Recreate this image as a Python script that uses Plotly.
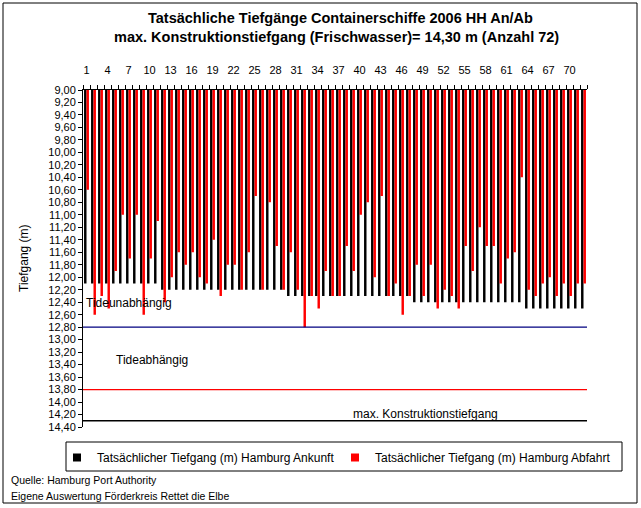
import plotly.graph_objects as go

# ---------------- data ----------------
schiffe = list(range(1, 73))

ankunft = [12.10, 12.10, 12.10, 12.10, 12.10, 12.10, 12.10, 12.10, 12.10, 12.10,
           12.10, 12.20, 12.20, 12.20, 12.20, 12.20, 12.20, 12.20, 12.20, 12.20,
           12.20, 12.20, 12.20, 12.20, 12.20, 12.20, 12.20, 12.20, 12.20, 12.30,
           12.30, 12.30, 12.30, 12.30, 12.30, 12.30, 12.30, 12.30, 12.30, 12.30,
           12.30, 12.30, 12.30, 12.30, 12.30, 12.30, 12.30, 12.40, 12.40, 12.40,
           12.40, 12.40, 12.40, 12.40, 12.40, 12.40, 12.40, 12.40, 12.40, 12.40,
           12.40, 12.40, 12.40, 12.50, 12.50, 12.50, 12.50, 12.50, 12.50, 12.50,
           12.50, 12.50]

abfahrt = [10.60, 12.60, 12.30, 12.50, 11.90, 11.00, 11.70, 11.00, 12.60, 11.70,
           11.10, 12.40, 12.00, 11.60, 11.80, 11.60, 12.00, 12.10, 11.40, 12.30,
           11.80, 11.80, 12.20, 11.60, 10.70, 12.20, 10.80, 11.50, 12.20, 11.60,
           12.20, 12.80, 12.30, 12.50, 11.90, 12.30, 12.30, 11.50, 11.90, 11.00,
           10.80, 12.00, 10.70, 12.30, 12.10, 12.60, 12.30, 11.80, 12.30, 11.80,
           12.50, 12.20, 12.30, 12.50, 11.50, 11.90, 11.20, 11.50, 11.50, 12.10,
           11.70, 11.60, 10.40, 12.20, 12.30, 12.10, 12.00, 12.30, 12.10, 12.30,
           12.10, 12.10]

x_ticklabels = [1, 4, 7, 10, 13, 16, 19, 22, 25, 28, 31, 34, 37, 40, 43, 46, 49, 52, 55, 58, 61, 64, 67, 70]
y_ticks = [9.0, 9.2, 9.4, 9.6, 9.8, 10.0, 10.2, 10.4, 10.6, 10.8, 11.0, 11.2, 11.4, 11.6,
           11.8, 12.0, 12.2, 12.4, 12.6, 12.8, 13.0, 13.2, 13.4, 13.6, 13.8, 14.0, 14.2, 14.4]

grenzen = [12.80, 13.80, 14.30]
grenz_farben = ["#000080", "#FF0000", "#000000"]
grenz_texte = ["Tideunabhängig", "Tideabhängig", "max. Konstruktionstiefgang"]
text_y = [12.41, 13.33, 14.19]
text_x = [0.6, 4.9, 38.8]

serien = ["Tatsächlicher Tiefgang (m) Hamburg Ankunft", "Tatsächlicher Tiefgang (m) Hamburg Abfahrt"]

FONT = "Liberation Sans, Arial, sans-serif"

# ---------------- layout geometry (pixels) ----------------
W, H = 641, 508
L, R, T, B = 83, 54, 90, 81
PW, PH = W - L - R, H - T - B


def px(xp):
    return (xp - L) / PW


def py(yp):
    return (H - B - yp) / PH


fig = go.Figure()

fig.add_trace(go.Bar(x=schiffe, y=ankunft, name=serien[0], marker=dict(color="#000000", line=dict(width=0)),
                     showlegend=False))
fig.add_trace(go.Bar(x=schiffe, y=abfahrt, name=serien[1], marker=dict(color="#FF0000", line=dict(width=0)),
                     showlegend=False))

for g, c in zip(grenzen, grenz_farben):
    fig.add_trace(go.Scatter(x=[0.5, 72.5], y=[g, g], mode="lines", line=dict(color=c, width=1.3),
                             showlegend=False, hoverinfo="skip"))

# legend entries
fig.add_trace(go.Scatter(x=[None], y=[None], mode="markers", name=serien[0],
                         marker=dict(symbol="square", size=8, color="#000000")))
fig.add_trace(go.Scatter(x=[None], y=[None], mode="markers", name=serien[1],
                         marker=dict(symbol="square", size=8, color="#FF0000")))

for t, xx, yy in zip(grenz_texte, text_x, text_y):
    fig.add_annotation(x=xx, y=yy, text=t, showarrow=False, xanchor="left", yanchor="middle",
                       font=dict(family=FONT, size=12, color="#000000"))

fig.add_annotation(x=px(15), y=py(258), xref="paper", yref="paper", text="Tiefgang (m)", textangle=-90,
                   showarrow=False, font=dict(family=FONT, size=12, color="#000000"))
fig.add_annotation(x=px(9), y=py(480), xref="paper", yref="paper", text="Quelle: Hamburg Port Authority",
                   showarrow=False, xanchor="left", yanchor="middle", font=dict(family=FONT, size=10.5, color="#000000"))
fig.add_annotation(x=px(9), y=py(496), xref="paper", yref="paper",
                   text="Eigene Auswertung Förderkreis Rettet die Elbe",
                   showarrow=False, xanchor="left", yanchor="middle", font=dict(family=FONT, size=10.5, color="#000000"))

fig.add_annotation(x=px(340), y=py(18), xref="paper", yref="paper",
                   text="<b>Tatsächliche Tiefgänge Containerschiffe 2006 HH An/Ab</b>",
                   showarrow=False, xanchor="center", yanchor="middle", font=dict(family=FONT, size=14.5, color="#000000"))
fig.add_annotation(x=px(336), y=py(37), xref="paper", yref="paper",
                   text="<b>max. Konstruktionstiefgang (Frischwasser)= 14,30 m (Anzahl 72)</b>",
                   showarrow=False, xanchor="center", yanchor="middle", font=dict(family=FONT, size=14.5, color="#000000"))

# outer border and legend box
fig.add_shape(type="rect", xref="paper", yref="paper", x0=px(3), x1=px(637), y0=py(503), y1=py(3),
              line=dict(color="#000000", width=1), layer="below")
fig.add_shape(type="rect", xref="paper", yref="paper", x0=px(66), x1=px(622), y0=py(471), y1=py(442),
              line=dict(color="#000000", width=1), layer="below")

fig.update_layout(
    width=W, height=H,
    margin=dict(l=L, r=R, t=T, b=B, autoexpand=False),
    paper_bgcolor="#FFFFFF", plot_bgcolor="#FFFFFF",
    barmode="group", bargap=0.3, bargroupgap=0,
    font=dict(family=FONT, size=11, color="#000000"),
    legend=dict(orientation="h", x=px(57), y=py(443), xanchor="left", yanchor="top",
                entrywidth=233, entrywidthmode="pixels", bgcolor="rgba(0,0,0,0)",
                font=dict(family=FONT, size=12), itemclick=False),
    xaxis=dict(side="top", range=[0.5, 72.5], tickmode="array", tickvals=x_ticklabels,
               ticktext=[str(v) for v in x_ticklabels], ticks="outside", ticklen=11,
               tickcolor="rgba(0,0,0,0)", showgrid=False, zeroline=False,
               showline=True, linecolor="#000000", linewidth=1,
               minor=dict(ticks="outside", tick0=0.5, dtick=1, ticklen=4, tickcolor="#000000", showgrid=False),
               tickfont=dict(family=FONT, size=11), fixedrange=True),
    yaxis=dict(range=[14.4, 9.0], tickmode="array", tickvals=y_ticks,
               ticktext=[f"{v:.2f}".replace(".", ",") for v in y_ticks],
               ticks="outside", ticklen=4, tickcolor="#000000", showgrid=False, zeroline=False,
               showline=True, linecolor="#000000", linewidth=1,
               tickfont=dict(family=FONT, size=11), fixedrange=True),
)

fig.write_html("out.html", config={"displayModeBar": False},
               post_script="document.body.style.margin='0px';document.body.style.padding='0px';")
